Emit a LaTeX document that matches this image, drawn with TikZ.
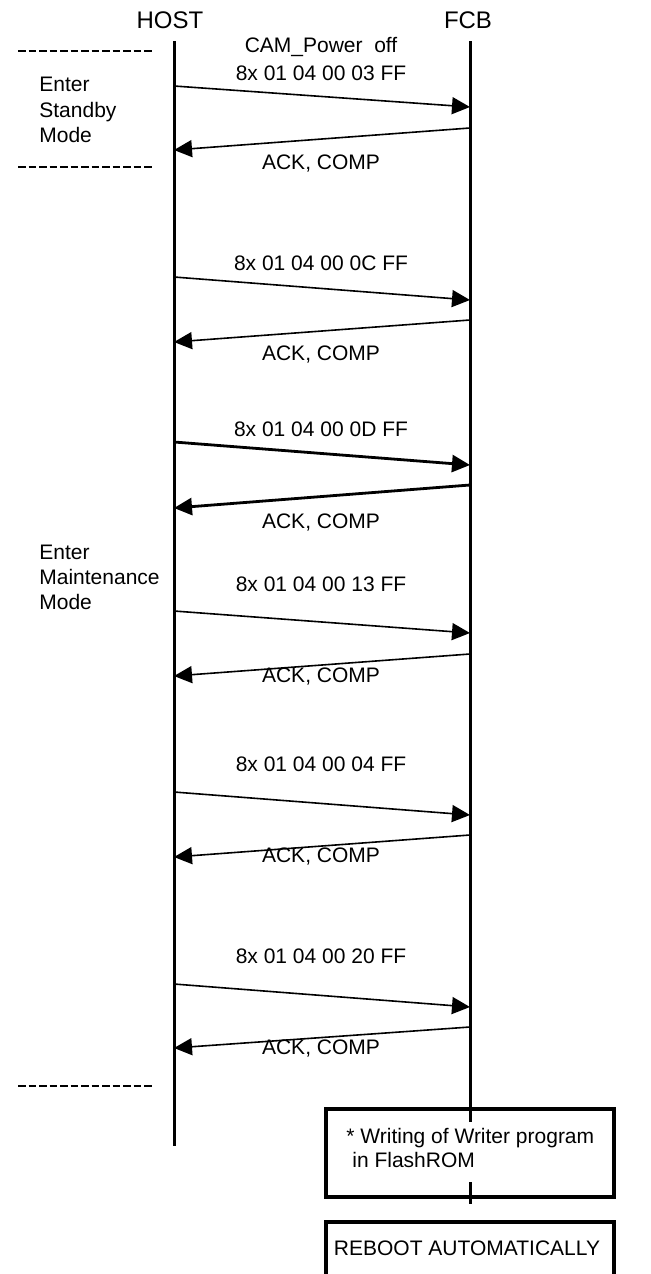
\documentclass[tikz,border=0pt]{standalone}
\usepackage{fontspec}
\setmainfont{Liberation Sans}
\usetikzlibrary{arrows.meta}
\newcommand{\lbl}{\fontsize{10.5}{12}\selectfont}
\newcommand{\hdr}{\fontsize{12}{14}\selectfont}

\begin{document}
\begin{tikzpicture}[x=0.5pt, y=-0.5pt, inner sep=0pt,
    life/.style={line width=1.5pt},
    msg/.style={-{Triangle[length=9pt, width=8.5pt]}, line width=0.8pt},
    boldmsg/.style={msg, line width=1.4pt},
    sep/.style={dash pattern=on 3.75pt off 1.5pt, line width=1.4pt},
    frame/.style={line width=1.7pt}]
    \useasboundingbox (0,0) rectangle (651,1274);

    \draw[every node/.style={anchor=base, font=\hdr}]
        (170,28.5) node (host){HOST}
        (468,28.5) node (fcb){FCB};

    \draw[every node/.style={anchor=base west, font=\lbl}]
        (39,91.5) node (s1){Enter}
        (39,117) node (s2){Standby}
        (39,142.5) node (s3){Mode}
        (39,559.5) node (m1){Enter}
        (39,584.5) node (m2){Maintenance}
        (39,609.5) node (m3){Mode};

    \draw[every node/.style={anchor=base, font=\lbl}]
        (321,52.5) node (c0){CAM\_Power\ \ off}
        (321,80.5) node (c1){8x 01 04 00 03 FF}
        (321,169.5) node (a1){ACK, COMP}
        (321,270.5) node (c2){8x 01 04 00 0C FF}
        (321,360.5) node (a2){ACK, COMP}
        (321,436.5) node (c3){8x 01 04 00 0D FF}
        (321,528.5) node (a3){ACK, COMP}
        (321,591.5) node (c4){8x 01 04 00 13 FF}
        (321,682.5) node (a4){ACK, COMP}
        (321,771.5) node (c5){8x 01 04 00 04 FF}
        (321,862.5) node (a5){ACK, COMP}
        (321,963.5) node (c6){8x 01 04 00 20 FF}
        (321,1054.5) node (a6){ACK, COMP};

    % lifelines
    \coordinate (htop) at (174,41);
    \coordinate (hbot) at (174,1146);
    \coordinate (ftop) at (470,41);
    \coordinate (fcut) at (470,1122);
    \coordinate (fres) at (470,1182);
    \coordinate (fbot) at (470,1204);
    \draw[life] (htop) -- (hbot);
    \draw[life] (ftop) -- (fcut);
    \draw[life] (fres) -- (fbot);

    % separators
    \draw[sep] (18,51) -- (153,51);
    \draw[sep] (18,167) -- (153,167);
    \draw[sep] (18,1086) -- (153,1086);

    % message ends
    \path
        (174,86) coordinate (h1)   (470,107) coordinate (f1)
        (470,128) coordinate (g1)  (174,150) coordinate (k1)
        (174,277) coordinate (h2)  (470,300) coordinate (f2)
        (470,320) coordinate (g2)  (174,342) coordinate (k2)
        (174,442) coordinate (h3)  (470,465) coordinate (f3)
        (470,485) coordinate (g3)  (174,508) coordinate (k3)
        (174,611) coordinate (h4)  (470,633) coordinate (f4)
        (470,654) coordinate (g4)  (174,676) coordinate (k4)
        (174,792) coordinate (h5)  (470,815) coordinate (f5)
        (470,835) coordinate (g5)  (174,857) coordinate (k5)
        (174,984) coordinate (h6)  (470,1007) coordinate (f6)
        (470,1027) coordinate (g6) (174,1048) coordinate (k6);
    \begin{scope}[msg]
        \draw (h1) to (f1);
        \draw (g1) to (k1);
        \draw (h2) to (f2);
        \draw (g2) to (k2);
        \draw[boldmsg] (h3) to (f3);
        \draw[boldmsg] (g3) to (k3);
        \draw (h4) to (f4);
        \draw (g4) to (k4);
        \draw (h5) to (f5);
        \draw (g5) to (k5);
        \draw (h6) to (f6);
        \draw (g6) to (k6);
    \end{scope}

    % boxes
    \draw[frame] (326,1109) rectangle (614,1197);
    \draw[every node/.style={anchor=base west, font=\lbl}]
        (346,1143.5) node (w1){* Writing of Writer program}
        (352,1167.5) node (w2){in FlashROM};
    \draw[frame] (326,1222) rectangle (614,1300);
    \node[anchor=base, font=\lbl] (reboot) at (467,1255.5) {REBOOT AUTOMATICALLY};
\end{tikzpicture}
\end{document}
